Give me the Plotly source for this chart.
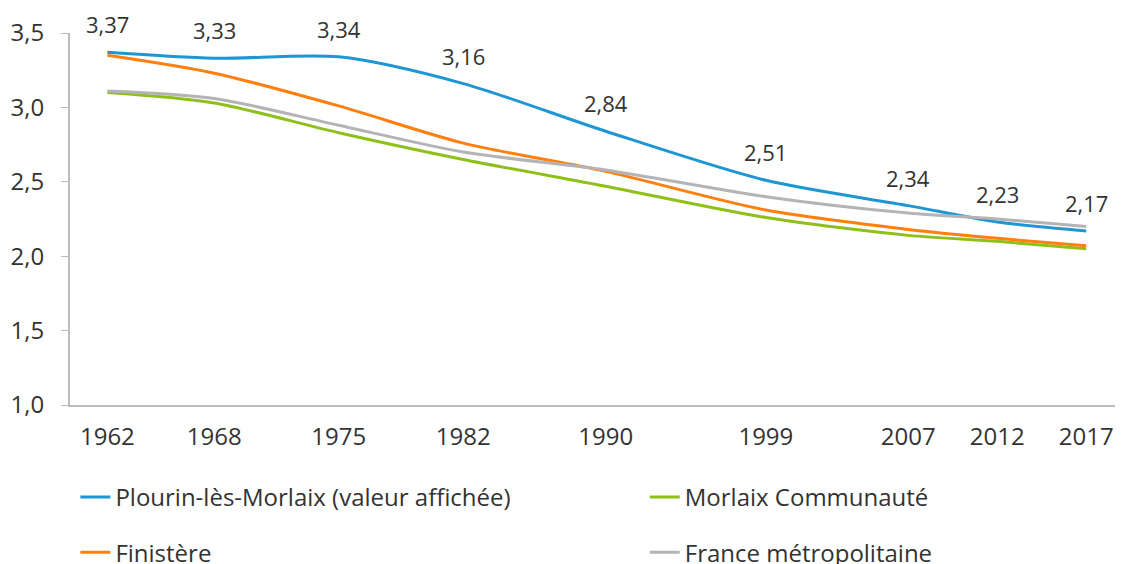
import plotly.graph_objects as go

years = [1962, 1968, 1975, 1982, 1990, 1999, 2007, 2012, 2017]
plourin = [3.37, 3.33, 3.34, 3.16, 2.84, 2.51, 2.34, 2.23, 2.17]
morlaix = [3.10, 3.03, 2.83, 2.65, 2.47, 2.26, 2.14, 2.10, 2.05]
finistere = [3.35, 3.23, 3.01, 2.76, 2.57, 2.31, 2.18, 2.12, 2.07]
france = [3.11, 3.06, 2.88, 2.70, 2.58, 2.40, 2.29, 2.25, 2.20]
y_ticks = [1.0, 1.5, 2.0, 2.5, 3.0, 3.5]

font = "Open Sans"
txt = "#333333"
fs_lab = 22
fs = 24

fig = go.Figure()

def add(name, vals, color, legend, group):
    fig.add_trace(go.Scatter(
        x=years, y=vals, name=name, mode="lines",
        line=dict(color=color, width=3, shape="spline", smoothing=0.8),
        legend=legend, legendgroup=group, hoverinfo="skip"))

add("Plourin-lès-Morlaix (valeur affichée)", plourin, "#1e96d3", "legend", "a")
add("Morlaix Communauté", morlaix, "#8fc01a", "legend2", "c")
add("Finistère", finistere, "#ff7f0f", "legend", "b")
add("France métropolitaine", france, "#b4b4b6", "legend2", "d")

for x, v in zip(years, plourin):
    fig.add_annotation(x=x, y=v, text=f"{v:.2f}".replace(".", ","), showarrow=False,
                       yshift=28, font=dict(size=fs_lab, color=txt, family=font))

leg_common = dict(orientation="v", xref="container", yref="container",
                  yanchor="top", xanchor="left", itemwidth=30,
                  tracegroupgap=21, bgcolor="rgba(0,0,0,0)",
                  font=dict(size=fs, color=txt, family=font))

fig.update_layout(
    width=1123, height=564,
    margin=dict(l=62, r=11, t=25, b=167, autoexpand=False),
    paper_bgcolor="white", plot_bgcolor="white",
    separators=", ",
    font=dict(family=font, size=fs, color=txt),
    xaxis=dict(range=[1959.9, 2018.9], tickvals=years, ticktext=[str(y) for y in years],
               showgrid=False, zeroline=False, showline=True, linecolor="#bcbcbc",
               linewidth=2, ticks="", ticklabelstandoff=9, automargin=False,
               tickangle=0, tickfont=dict(size=fs, color=txt)),
    yaxis=dict(range=[1.0, 3.5], tickvals=y_ticks, tickformat=".1f",
               showgrid=False, zeroline=False, showline=True, linecolor="#bcbcbc",
               linewidth=2, ticks="outside", ticklen=7, tickcolor="#bcbcbc",
               ticklabelstandoff=12, automargin=False,
               tickfont=dict(size=fs, color=txt)),
    legend=dict(x=0.06, y=1 - 467 / 564, **leg_common),
    legend2=dict(x=0.567, y=1 - 467 / 564, **leg_common),
)

fig.write_html("out.html")
